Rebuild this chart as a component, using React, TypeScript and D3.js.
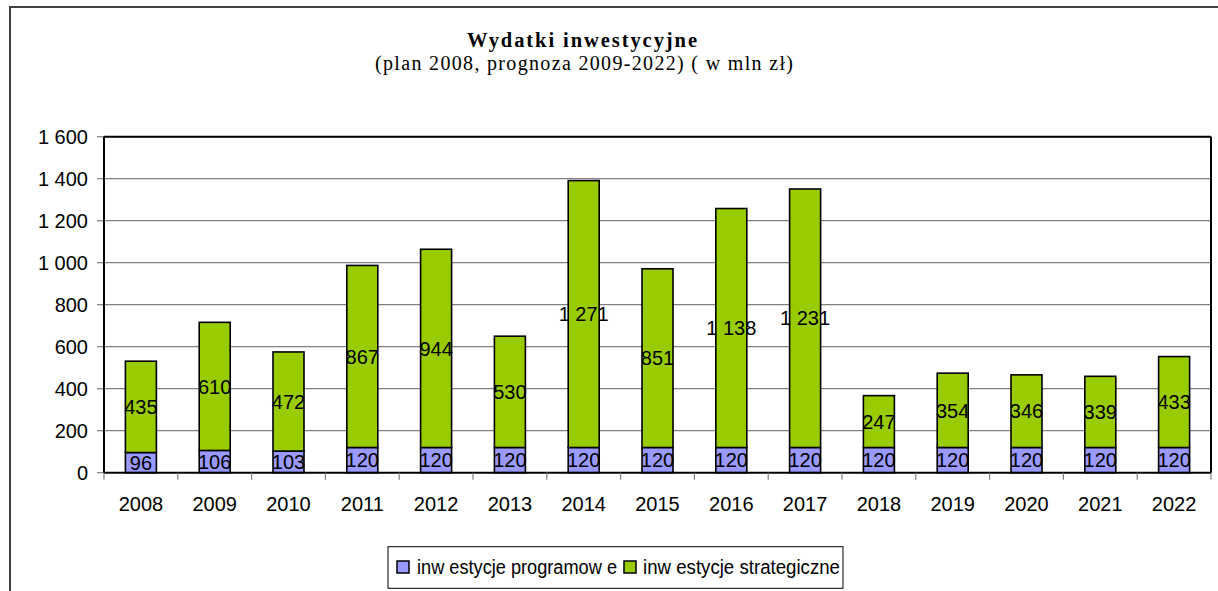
import React from "react";
import * as d3 from "d3";

const years = ["2008","2009","2010","2011","2012","2013","2014","2015","2016","2017","2018","2019","2020","2021","2022"];
const programowe = [96,106,103,120,120,120,120,120,120,120,120,120,120,120,120];
const strategiczne = [435,610,472,867,944,530,1271,851,1138,1231,247,354,346,339,433];
const yTicks = [0,200,400,600,800,1000,1200,1400,1600];
const seriesNames = ["inw estycje programow e", "inw estycje strategiczne"];
const colors = ["#9999FF", "#99CC00"];

const fmt = d3.formatLocale({ decimal: ",", thousands: " ", grouping: [3], currency: ["", ""] }).format(",d");

export default function App() {
  const W = 1218, H = 591;
  const left = 104, right = 1211, top = 136.7, bottom = 472.7;
  const x = d3.scaleBand<string>().domain(years).range([left, right]).padding(0);
  const y = d3.scaleLinear().domain([0, 1600]).range([bottom, top]);
  const bw = x.bandwidth() * 0.42;
  const stacked = d3.stack<any>().keys(["p", "s"])(years.map((yr, i) => ({ yr, p: programowe[i], s: strategiczne[i] })));
  const font = "'Liberation Sans', Arial, sans-serif";
  const serif = "'Liberation Serif', 'Times New Roman', serif";

  return (
    <svg width={W} height={H} style={{ position: "absolute", left: 0, top: 0, background: "#fff" }}>
      <rect x={0} y={0} width={W} height={H} fill="#fff" />
      <rect x={10} y={7} width={1400} height={800} fill="none" stroke="#404040" strokeWidth={2} />
      <text x={582} y={47} textAnchor="middle" fontFamily={serif} fontWeight="bold" fontSize={20.5} textLength={230} lengthAdjust="spacing">Wydatki inwestycyjne</text>
      <text x={584} y={70} textAnchor="middle" fontFamily={serif} fontSize={20} textLength={418} lengthAdjust="spacing">(plan 2008, prognoza 2009-2022) ( w mln zł)</text>

      {/* gridlines */}
      {yTicks.slice(1).map(t => (
        <line key={"g" + t} x1={left} x2={right} y1={y(t)} y2={y(t)} stroke="#808080" strokeWidth={1.2} />
      ))}
      {/* y ticks & labels */}
      {yTicks.map(t => (
        <g key={"t" + t}>
          <line x1={97} x2={left} y1={y(t)} y2={y(t)} stroke="#808080" strokeWidth={1.2} />
          <text x={88} y={y(t)} dy="0.36em" textAnchor="end" fontFamily={font} fontSize={20} fill="#000">{fmt(t)}</text>
        </g>
      ))}

      {/* bars */}
      {stacked.map((layer, li) => (
        <g key={"l" + li}>
          {layer.map((d, i) => {
            const cx = (x(years[i]) as number) + x.bandwidth() / 2;
            return (
              <rect key={i} x={cx - bw / 2} y={y(d[1])} width={bw} height={y(d[0]) - y(d[1])} fill={colors[li]} stroke="#000" strokeWidth={1.6} />
            );
          })}
        </g>
      ))}
      {stacked.map((layer, li) => (
        <g key={"lb" + li}>
          {layer.map((d, i) => {
            const cx = (x(years[i]) as number) + x.bandwidth() / 2;
            return (
              <text key={i} x={cx} y={y((d[0] + d[1]) / 2)} dy="0.36em" textAnchor="middle" fontFamily={font} fontSize={20} fill="#000">{fmt(d[1] - d[0])}</text>
            );
          })}
        </g>
      ))}

      {/* plot border top/right */}
      <line x1={left} x2={right} y1={top} y2={top} stroke="#000" strokeWidth={2} />
      <line x1={right} x2={right} y1={top} y2={bottom} stroke="#000" strokeWidth={2} />
      {/* axes */}
      <line x1={left} x2={left} y1={top} y2={bottom} stroke="#000" strokeWidth={2} />
      <line x1={left} x2={right} y1={bottom} y2={bottom} stroke="#000" strokeWidth={2} />
      {years.map((yr, i) => (
        <line key={"xt" + i} x1={x(yr) as number} x2={x(yr) as number} y1={bottom} y2={bottom + 7} stroke="#808080" strokeWidth={1.2} />
      ))}
      <line x1={right} x2={right} y1={bottom} y2={bottom + 7} stroke="#808080" strokeWidth={1.2} />
      {years.map(yr => (
        <text key={"xl" + yr} x={(x(yr) as number) + x.bandwidth() / 2} y={511} textAnchor="middle" fontFamily={font} fontSize={20} fill="#000">{yr}</text>
      ))}

      {/* legend */}
      <rect x={388} y={546.7} width={455} height={41.6} fill="#fff" stroke="#000" strokeWidth={1} />
      <rect x={397} y={561} width={12} height={12} fill={colors[0]} stroke="#000" strokeWidth={1.5} />
      <text x={417} y={574} fontFamily={font} fontSize={20} fill="#000" textLength={200} lengthAdjust="spacingAndGlyphs" style={{ whiteSpace: "pre" }}>{seriesNames[0]}</text>
      <rect x={624} y={561} width={12} height={12} fill={colors[1]} stroke="#000" strokeWidth={1.5} />
      <text x={643} y={574} fontFamily={font} fontSize={20} fill="#000" textLength={197} lengthAdjust="spacingAndGlyphs" style={{ whiteSpace: "pre" }}>{seriesNames[1]}</text>
    </svg>
  );
}
